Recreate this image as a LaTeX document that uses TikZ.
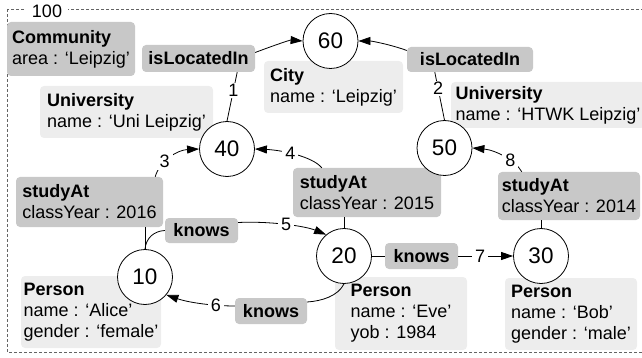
\documentclass[tikz,border=0pt]{standalone}
\usepackage{fontspec}
\setmainfont{Liberation Sans}
\usetikzlibrary{arrows.meta,calc}
\definecolor{darkbox}{RGB}{200,200,200}
\definecolor{lightbox}{RGB}{237,237,237}
\definecolor{framecol}{RGB}{100,100,100}
\begin{document}
\begin{tikzpicture}[x=1pt,y=-1pt,
  every node/.style={font=\fontsize{18}{21}\selectfont},
  box/.style n args={2}{rounded corners=4pt, inner sep=0pt, align=left,
     minimum width=#1, minimum height=#2},
  dbox/.style 2 args={box={#1}{#2}, fill=darkbox},
  lbox/.style 2 args={box={#1}{#2}, fill=lightbox},
  vert/.style={circle, draw, fill=white, line width=0.8pt, minimum size=55pt, inner sep=0pt,
     font=\fontsize{22.5}{26}\selectfont},
  num/.style={fill=white, inner xsep=3pt, inner ysep=1.5pt},
  edge/.style={line width=0.8pt},
  arr/.style={edge, -{Triangle[length=12pt,width=8pt]}}
]
\useasboundingbox (0,0) rectangle (642,358);
% frame
\draw[framecol, line width=0.8pt, dash pattern=on 3pt off 2pt] (7,9) rectangle (660,352);
\node[fill=white, inner xsep=6pt, inner ysep=2pt] (lbl) at (47,11) {100};

% boxes
\node[dbox={128pt}{54pt}] (comm) at (71,49) {\textbf{Community}\\area : ‘Leipzig’};
\node[dbox={113pt}{27pt}] (loc1) at (198.5,58.5) {\textbf{isLocatedIn}};
\node[dbox={126pt}{25pt}] (loc2) at (470,59.5) {\textbf{isLocatedIn}};
\node[lbox={173pt}{52pt}] (uni1) at (126.5,112) {\textbf{University}\\name : ‘Uni Leipzig’};
\node[lbox={139pt}{52pt}] (city) at (333.5,87) {\textbf{City}\\name : ‘Leipzig’};
\node[lbox={194pt}{46pt}] (uni2) at (548,105) {\textbf{University}\\name : ‘HTWK Leipzig’};
\node[dbox={147pt}{50pt}] (sa16) at (89.5,202) {\textbf{studyAt}\\classYear : 2016};
\node[dbox={148pt}{49pt}] (sa15) at (367,192.5) {\textbf{studyAt}\\classYear : 2015};
\node[dbox={142pt}{48pt}] (sa14) at (569,196) {\textbf{studyAt}\\classYear : 2014};
\node[dbox={73pt}{25pt}] (kn1) at (201.5,230.5) {\textbf{knows}};
\node[dbox={72pt}{26pt}] (kn2) at (271,311) {\textbf{knows}};
\node[dbox={73pt}{26pt}] (kn3) at (421.5,256) {\textbf{knows}};
\node[lbox={140pt}{72pt}] (p1) at (91,312) {\textbf{Person}\\name : ‘Alice’\\gender : ‘female’};
\node[lbox={132pt}{73pt}] (p2) at (401,313.5) {\textbf{Person}\\name : ‘Eve’\\yob : 1984};
\node[lbox={132pt}{72pt}] (p3) at (571,314) {\textbf{Person}\\name : ‘Bob’\\gender : ‘male’};

% vertices
\node[vert] (n60) at (330.5,41) {60};
\node[vert] (n40) at (227,149) {40};
\node[vert] (n50) at (444.5,148) {50};
\node[vert] (n10) at (145,277) {10};
\node[vert] (n20) at (344,256) {20};
\node[vert] (n30) at (541,256) {30};

% edge 1
\draw[edge] (n40.north) -- node[num,pos=0.62]{1} ($(loc1.south east)+(-18,0)$);
\draw[arr] ($(loc1.east)+(0,-6)$) .. controls (275,45) and (290,40) .. (n60.west);
% edge 2
\draw[edge] (n50.north) -- node[num,pos=0.66]{2} ($(loc2.south west)+(28,0)$);
\draw[arr] ($(loc2.west)+(0,-9)$) .. controls (392,45) and (372,41) .. (n60.east);
% edge 3
\draw[edge] (n10.north) -- (n10.north |- sa16.south);
\draw[arr] ($(sa16.north east)+(-8,0)$) .. controls (160,160) and (178,150) .. node[num,pos=0.35]{3} (n40.west);
% edge 4
\draw[edge] (n20.north) -- (n20.north |- sa15.south);
\draw[arr] ($(sa15.north west)+(29,0)$) .. controls (312,156) and (280,150) .. node[num,pos=0.55]{4} (n40.east);
% edge 5
\draw[edge] (n10.north) .. controls (146,238) and (154,231) .. (kn1.west);
\draw[arr] ($(kn1.east)+(0,-8)$) .. controls (270,221) and (305,226) .. node[num,pos=0.5]{5} (n20.130);
% edge 6
\draw[edge] (n20.south) .. controls (338,296) and (322,301) .. ($(kn2.east)+(0,-9)$);
\draw[arr] ($(kn2.west)+(0,-5)$) .. controls (215,306) and (190,303) .. node[num,pos=0.3]{6} (n10.-40);
% edge 7
\draw[edge] (n20.east) -- (kn3.west);
\draw[arr] (kn3.east) -- node[num,pos=0.4]{7} (n30.west);
% edge 8
\draw[edge] (n30.north) -- (n30.north |- sa14.south);
\draw[arr] ($(sa14.north west)+(24,0)$) .. controls (515,160) and (495,150) .. node[num,pos=0.35]{8} (n50.east);
\end{tikzpicture}
\end{document}
